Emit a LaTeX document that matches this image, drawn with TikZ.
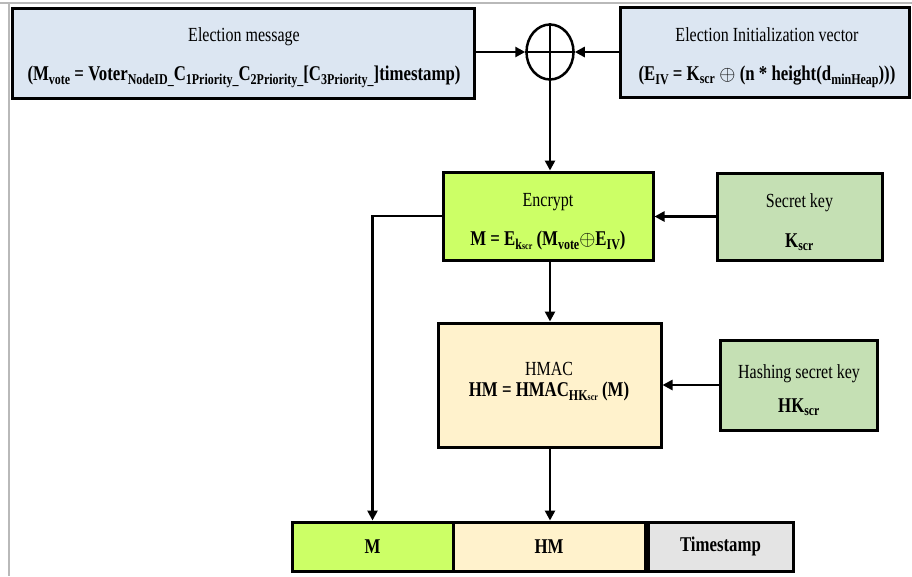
\documentclass[tikz,border=0pt]{standalone}
\usepackage{fontspec}
\setmainfont[FakeStretch=0.8]{Liberation Serif}
\usetikzlibrary{arrows.meta,shapes.geometric}

\definecolor{msgblue}{HTML}{DCE6F2}
\definecolor{encgreen}{HTML}{CCFF66}
\definecolor{keygreen}{HTML}{C5E0B4}
\definecolor{hmaccream}{HTML}{FFF2CC}
\definecolor{stampgray}{HTML}{E4E4E4}

\newcommand{\scrsub}{{\fontsize{10}{10}\selectfont scr}}
\newcommand{\bigsub}[1]{\raisebox{-4pt}{\fontsize{15}{15}\selectfont #1}}
\newcommand{\formula}[1]{{\fontsize{21}{24}\selectfont\bfseries #1}}

\begin{document}
\begin{tikzpicture}[x=1pt, y=-1pt, font=\fontsize{20}{24}\selectfont,
  box/.style={draw=black, line width=3pt, inner sep=0pt},
  txt/.style={align=center, inner sep=0pt},
  link/.style={line width=2.5pt, -{Triangle[length=10pt,width=10pt]}}]

  \useasboundingbox (0,0) rectangle (912,576);

  % page frame
  \draw[gray!55, line width=1.5pt] (0,3) -- (912,3);
  \draw[gray!55, line width=1.5pt] (9,3) -- (9,576);

  % ------------------------------------------------------------------
  % inputs:  election message (+) initialization vector
  % ------------------------------------------------------------------
  \node[box, fill=msgblue, minimum width=462, minimum height=90] (msg) at (243,53) {};
  \node[txt] (msgtxt) at (244,58)
    {Election message\\[15pt]
     \formula{(M\bigsub{vote} = Voter\bigsub{NodeID\_}C\bigsub{1Priority\_}C\bigsub{2Priority\_}[C\bigsub{3Priority\_}]timestamp)}};

  \node[box, fill=msgblue, minimum width=289, minimum height=90] (iv) at (764.5,52) {};
  \node[txt] (ivtxt) at (767,58)
    {Election Initialization vector\\[15pt]
     \formula{(E\bigsub{IV} = K\textsubscript{scr} $\oplus$ (n * height(d\bigsub{minHeap})))}};

  % xor
  \node[draw, ellipse, line width=2.5pt, minimum width=47, minimum height=55, inner sep=0pt] (xor) at (550,52) {};
  \draw[line width=2.5pt] (xor.north) -- (xor.south);
  \draw[line width=2.5pt] (xor.west) -- (xor.east);

  % ------------------------------------------------------------------
  % encrypt + key
  % ------------------------------------------------------------------
  \node[box, fill=encgreen, minimum width=210, minimum height=88] (enc) at (548,216) {};
  \node[txt] (enctxt) at (548,222)
    {Encrypt\\[15pt]
     \formula{M = E\bigsub{k\scrsub} (M\bigsub{vote}$\oplus$E\bigsub{IV})}};

  \node[box, fill=keygreen, minimum width=165, minimum height=87] (key) at (799.5,216.5) {};
  \node[txt] (keytxt) at (799.5,222)
    {Secret key\\[16pt]\formula{K\textsubscript{scr}}};

  % ------------------------------------------------------------------
  % HMAC + hashing key
  % ------------------------------------------------------------------
  \node[box, fill=hmaccream, minimum width=223, minimum height=124] (hmac) at (549.5,385) {};
  \node[txt] (hmactxt) at (549,382)
    {HMAC\\[-3pt]
     \formula{HM = HMAC\bigsub{HK\scrsub} (M)}};

  \node[box, fill=keygreen, minimum width=157, minimum height=90] (hkey) at (798.5,385) {};
  \node[txt] (hkeytxt) at (799,390)
    {Hashing secret key\\[10pt]\formula{HK\textsubscript{scr}}};

  % ------------------------------------------------------------------
  % output packet
  % ------------------------------------------------------------------
  \node[box, fill=encgreen, minimum width=161, minimum height=49, font=\fontsize{21}{24}\selectfont\bfseries] (outm) at (372.5,546.5) {M};
  \node[box, fill=hmaccream, minimum width=192, minimum height=49, font=\fontsize{21}{24}\selectfont\bfseries] (outhm) at (549,546.5) {HM};
  \node[box, fill=stampgray, minimum width=145, minimum height=49, font=\fontsize{21}{24}\selectfont\bfseries] (outts) at (720.5,546.5) {Timestamp};

  % connectors
  \draw[link] (msg.east |- xor.west) -- (xor.west);
  \draw[link] (iv.west |- xor.east) -- (xor.east);
  \draw[link] (xor.south) -- (xor.south |- enc.north);
  \draw[link] (key.west) -- (enc.east |- key.west);
  \draw[link] (enc.west) -| (outm.north);
  \draw[link] (xor.south |- enc.south) -- (xor.south |- hmac.north);
  \draw[link] (hkey.west) -- (hmac.east |- hkey.west);
  \draw[link] (xor.south |- hmac.south) -- (xor.south |- outhm.north);

\end{tikzpicture}
\end{document}
